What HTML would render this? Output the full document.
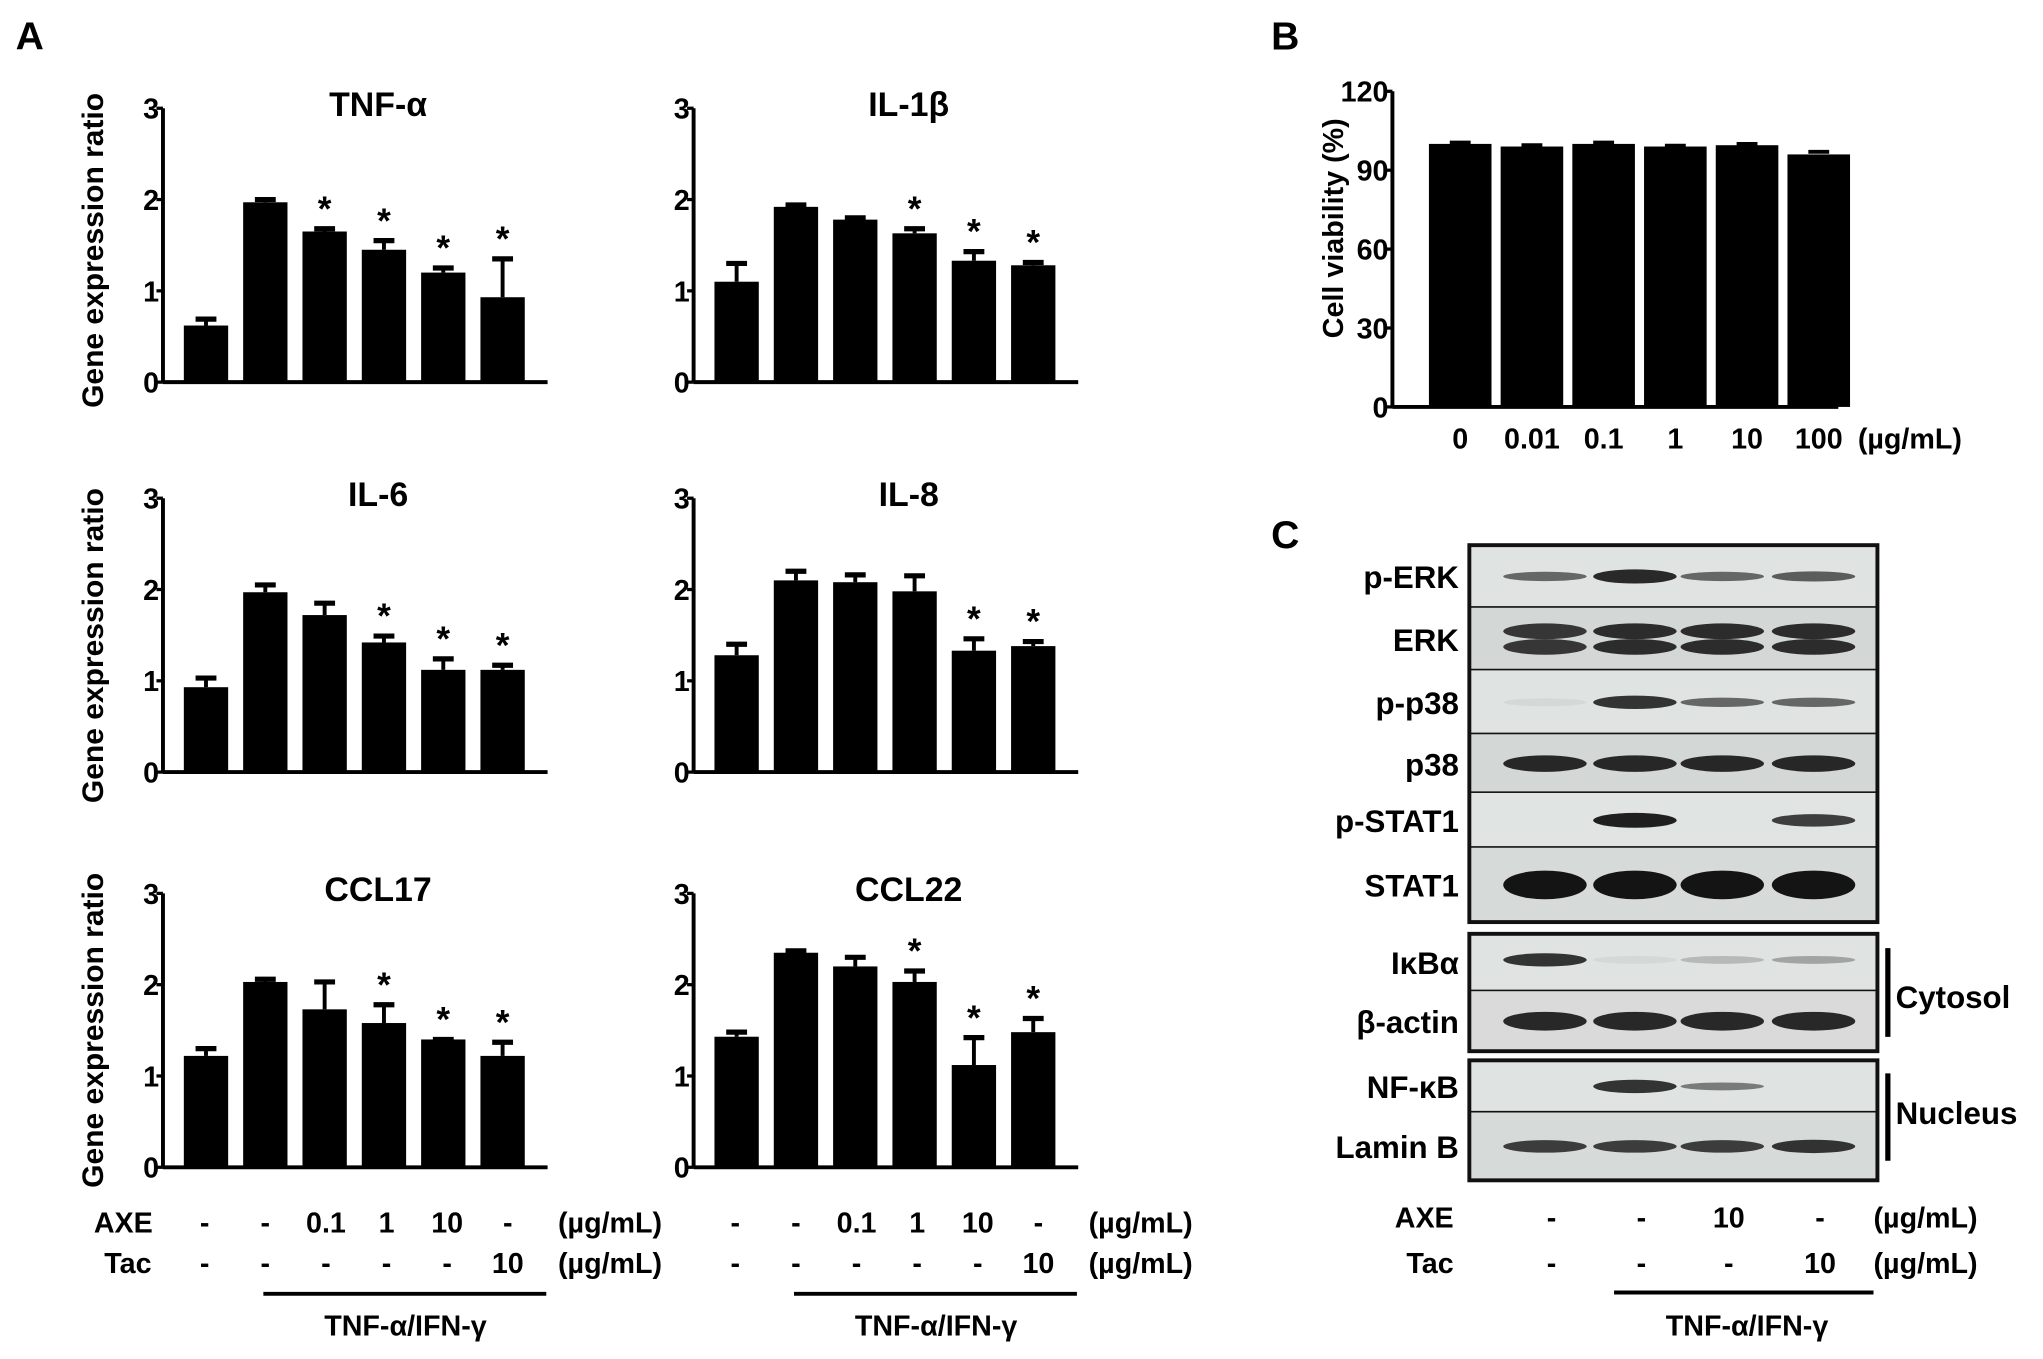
<!DOCTYPE html>
<html><head><meta charset="utf-8"><style>
html,body{margin:0;padding:0;background:#fff}
svg{display:block}
text{font-family:"Liberation Sans",sans-serif;font-weight:bold;fill:#000}
</style></head><body>
<svg id="fig" xmlns="http://www.w3.org/2000/svg" width="2043" height="1359" viewBox="0 0 1567 1042" preserveAspectRatio="none">
<rect width="1567" height="1042" fill="#fff"/>
<text x="12" y="38" font-size="30">A</text>
<text x="975" y="38" font-size="30">B</text>
<text x="975" y="420" font-size="30">C</text>
<g id="pA"></g><g id="pB"></g><g id="pC"></g>
</svg>
<script>
const NS="http://www.w3.org/2000/svg";
// Panel A data
const genes=["TNF-\u03B1","IL-1\u03B2","IL-6","IL-8","CCL17","CCL22"];
const tnfVals=[0.62,1.97,1.65,1.45,1.2,0.93];
const tnfErr=[0.07,0.03,0.03,0.1,0.05,0.42];
const il1Vals=[1.1,1.92,1.78,1.63,1.33,1.28];
const il1Err=[0.2,0.02,0.02,0.05,0.1,0.03];
const il6Vals=[0.93,1.97,1.72,1.42,1.12,1.12];
const il6Err=[0.1,0.08,0.13,0.07,0.12,0.05];
const il8Vals=[1.28,2.1,2.08,1.98,1.33,1.38];
const il8Err=[0.12,0.1,0.08,0.17,0.13,0.05];
const ccl17Vals=[1.22,2.03,1.73,1.58,1.4,1.22];
const ccl17Err=[0.08,0.03,0.3,0.2,0.0,0.15];
const ccl22Vals=[1.43,2.35,2.2,2.03,1.12,1.48];
const ccl22Err=[0.05,0.02,0.1,0.12,0.3,0.15];
const tnfStars=[0,0,1,1,1,1];
const il1Stars=[0,0,0,1,1,1];
const il6Stars=[0,0,0,1,1,1];
const il8Stars=[0,0,0,0,1,1];
const ccl17Stars=[0,0,0,1,1,1];
const ccl22Stars=[0,0,0,1,1,1];
const yTicksA=[0,1,2,3];
const axeLabels=["-","-","0.1","1","10","-"];
const tacLabels=["-","-","-","-","-","10"];
// Panel B data
const doses=["0","0.01","0.1","1","10","100"];
const viability=[100,99,100,99,99.5,96];
const viabErr=[0.5,0.5,0.5,0.3,0.5,1];
const yTicksB=[0,30,60,90,120];
// Panel C data
const blotRows=["p-ERK","ERK","p-p38","p38","p-STAT1","STAT1","I\u03BAB\u03B1","\u03B2-actin","NF-\u03BAB","Lamin B"];
const pErk=[0.6,0.9,0.6,0.65];
const erk=[0.85,0.9,0.9,0.9];
const pP38=[0.05,0.85,0.6,0.6];
const p38=[0.9,0.9,0.9,0.9];
const pStat1=[0,0.95,0,0.8];
const stat1=[1,1,1,1];
const ikba=[0.85,0.05,0.2,0.3];
const bActin=[0.9,0.9,0.9,0.9];
const nfkb=[0,0.85,0.5,0];
const laminB=[0.8,0.8,0.8,0.85];
const axeC=["-","-","10","-"];
const tacC=["-","-","-","10"];

function el(tag,attrs,parent,txt){const e=document.createElementNS(NS,tag);for(const k in attrs)e.setAttribute(k,attrs[k]);if(txt!==undefined)e.textContent=txt;parent.appendChild(e);return e;}

const pA=document.getElementById('pA');
function barChart(ax,y0,vals,errs,stars,title){
  const g=el('g',{},pA);
  
  
  const yMax=3, h=210;
  const ys=v=>y0-v/yMax*h;
  const xs=i=>ax+33+i*45.5;
  el('line',{x1:ax,y1:ys(3),x2:ax,y2:y0,stroke:'#000','stroke-width':3},g);
  el('line',{x1:ax,y1:y0,x2:ax+295,y2:y0,stroke:'#000','stroke-width':3},g);
  yTicksA.forEach(t=>{
    el('line',{x1:ax-5,y1:ys(t),x2:ax,y2:ys(t),stroke:'#000','stroke-width':2.5},g);
    const tx=el('text',{x:ax-3,y:ys(t)+8,'font-size':22,'text-anchor':'end','font-weight':'normal'},g,String(t));
    
    
  });
  const tt=el('text',{x:ax+165,y:y0-204,'font-size':26,'text-anchor':'middle'},g,title);
  
  
  vals.forEach((v,i)=>{
    const cx=xs(i),w=34;
    const top=ys(v+errs[i]);
    el('line',{x1:cx,y1:ys(v),x2:cx,y2:top,stroke:'#000','stroke-width':3},g);
    el('line',{x1:cx-8,y1:top,x2:cx+8,y2:top,stroke:'#000','stroke-width':4},g);
    const b=el('rect',{x:cx-w/2,y:ys(v),width:w,height:y0-ys(v),fill:'#000'},g);
    
    
    if(stars[i]){
      const s=el('text',{x:cx,y:top-6,'font-size':27,'text-anchor':'middle','font-weight':'normal'},g,'*');
      
      
    }
  });
}
function yLabelA(y){
  const t=el('text',{x:0,y:0,'font-size':23,'text-anchor':'middle',transform:`translate(79,${y}) rotate(-90)`},pA,'Gene expression ratio');
  
  
}
barChart(125,293,tnfVals,tnfErr,tnfStars,genes[0]);
barChart(532,293,il1Vals,il1Err,il1Stars,genes[1]);
barChart(125,592,il6Vals,il6Err,il6Stars,genes[2]);
barChart(532,592,il8Vals,il8Err,il8Stars,genes[3]);
barChart(125,895,ccl17Vals,ccl17Err,ccl17Stars,genes[4]);
barChart(532,895,ccl22Vals,ccl22Err,ccl22Stars,genes[5]);
yLabelA(192);yLabelA(495);yLabelA(790);

function treatments(ax,showNames){
  const xs=i=>ax+32+i*46.5;
  if(showNames){
    const a=el('text',{x:72,y:945,'font-size':22},pA,'AXE');
    const b=el('text',{x:80,y:976,'font-size':22},pA,'Tac');
  }
  axeLabels.forEach((l,i)=>{const t=el('text',{x:xs(i),y:945,'font-size':22,'text-anchor':'middle'},pA,l);});
  tacLabels.forEach((l,i)=>{const t=el('text',{x:xs(i),y:976,'font-size':22,'text-anchor':'middle'},pA,l);});
  const u1=el('text',{x:ax+303,y:945,'font-size':22},pA,'(\u00B5g/mL)');
  const u2=el('text',{x:ax+303,y:976,'font-size':22},pA,'(\u00B5g/mL)');
  el('line',{x1:ax+77,y1:992,x2:ax+294,y2:992,stroke:'#000','stroke-width':3},pA);
  const s=el('text',{x:ax+186,y:1024,'font-size':22,'text-anchor':'middle'},pA,'TNF-\u03B1/IFN-\u03B3');
}
treatments(125,true);treatments(532,false);

// Panel B
const pB=document.getElementById('pB');
(function(){
  const ax=1068,y0=312,h=242,yMax=120;
  const ys=v=>y0-v/yMax*h;
  const xs=i=>ax+52+i*55;
  el('line',{x1:ax,y1:ys(120),x2:ax,y2:y0,stroke:'#000','stroke-width':3},pB);
  el('line',{x1:ax,y1:y0,x2:ax+342,y2:y0,stroke:'#000','stroke-width':3},pB);
  yTicksB.forEach(t=>{
    el('line',{x1:ax-5,y1:ys(t),x2:ax,y2:ys(t),stroke:'#000','stroke-width':2.5},pB);
    const tx=el('text',{x:ax-3,y:ys(t)+8,'font-size':22,'text-anchor':'end'},pB,String(t));
    
    
  });
  viability.forEach((v,i)=>{
    const cx=xs(i);
    el('line',{x1:cx-8,y1:ys(v+viabErr[i]),x2:cx+8,y2:ys(v+viabErr[i]),stroke:'#000','stroke-width':3},pB);
    const b=el('rect',{x:cx-24,y:ys(v),width:48,height:y0-ys(v),fill:'#000'},pB);
    
    
    const t=el('text',{x:cx,y:344,'font-size':22,'text-anchor':'middle'},pB,doses[i]);
    
    
  });
  const u=el('text',{x:1425,y:344,'font-size':22},pB,'(\u00B5g/mL)');
  const yl=el('text',{x:0,y:0,'font-size':22,'text-anchor':'middle',transform:'translate(1030,175) rotate(-90)'},pB,'Cell viability (%)');
  
})();

// Panel C
const pC=document.getElementById('pC');
(function(){
  const L=1127,R=1440;
  const lanes=[1185,1254,1321,1391];
  const data=[pErk,erk,pP38,p38,pStat1,stat1,ikba,bActin,nfkb,laminB];
  const bounds=[[418,466],[466,514],[514,563],[563,608],[608,650],[650,707],[716,760],[760,806],[813,853],[853,905]];
  const boxes=[[418,707],[716,806],[813,905]];
  const bgs=['#dfe3e1','#d3d7d5','#dfe3e1','#d3d7d5','#e0e4e2','#d6dad8','#dfe3e1','#dadada','#dfe3e1','#d6dad8'];
  bounds.forEach((b,r)=>{
    el('rect',{x:L,y:b[0],width:R-L,height:b[1]-b[0],fill:bgs[r]},pC);
    const cy=(b[0]+b[1])/2+ (r===6?-2:0);
    data[r].forEach((v,i)=>{
      if(v<=0)return;
      const hgt=(r===5?22:r===7?16:r===3?14:12)*Math.max(0.5,v);
      if(r===1){
        [cy-6,cy+6].forEach(yy=>{const e=el('ellipse',{cx:lanes[i],cy:yy,rx:32,ry:6,fill:'#1a1a1a','fill-opacity':v},pC);});
      } else {
        const e=el('ellipse',{cx:lanes[i],cy:cy,rx:32,ry:hgt/2,fill:'#141414','fill-opacity':v},pC);
        
      }
    });
    const t=el('text',{x:1119,y:(b[0]+b[1])/2+9,'font-size':24,'text-anchor':'end'},pC,blotRows[r]);
    
    el('line',{x1:L,y1:b[1],x2:R,y2:b[1],stroke:'#111','stroke-width':2.5},pC);
  });
  boxes.forEach(b=>{el('rect',{x:L,y:b[0],width:R-L,height:b[1]-b[0],fill:'none',stroke:'#111','stroke-width':3},pC);});
  el('line',{x1:1448,y1:727,x2:1448,y2:795,stroke:'#000','stroke-width':4},pC);
  el('line',{x1:1448,y1:823,x2:1448,y2:890,stroke:'#000','stroke-width':4},pC);
  const cy=el('text',{x:1454,y:773,'font-size':24},pC,'Cytosol');
  const nu=el('text',{x:1454,y:862,'font-size':24},pC,'Nucleus');
  const a=el('text',{x:1115,y:941,'font-size':22,'text-anchor':'end'},pC,'AXE');
  const tc=el('text',{x:1115,y:976,'font-size':22,'text-anchor':'end'},pC,'Tac');
  axeC.forEach((l,i)=>{const t=el('text',{x:lanes[i]+5,y:941,'font-size':22,'text-anchor':'middle'},pC,l);});
  tacC.forEach((l,i)=>{const t=el('text',{x:lanes[i]+5,y:976,'font-size':22,'text-anchor':'middle'},pC,l);});
  const u1=el('text',{x:1437,y:941,'font-size':22},pC,'(\u00B5g/mL)');
  const u2=el('text',{x:1437,y:976,'font-size':22},pC,'(\u00B5g/mL)');
  el('line',{x1:1238,y1:991,x2:1437,y2:991,stroke:'#000','stroke-width':3},pC);
  const s=el('text',{x:1340,y:1024,'font-size':22,'text-anchor':'middle'},pC,'TNF-\u03B1/IFN-\u03B3');
})();
</script>
</body></html>
